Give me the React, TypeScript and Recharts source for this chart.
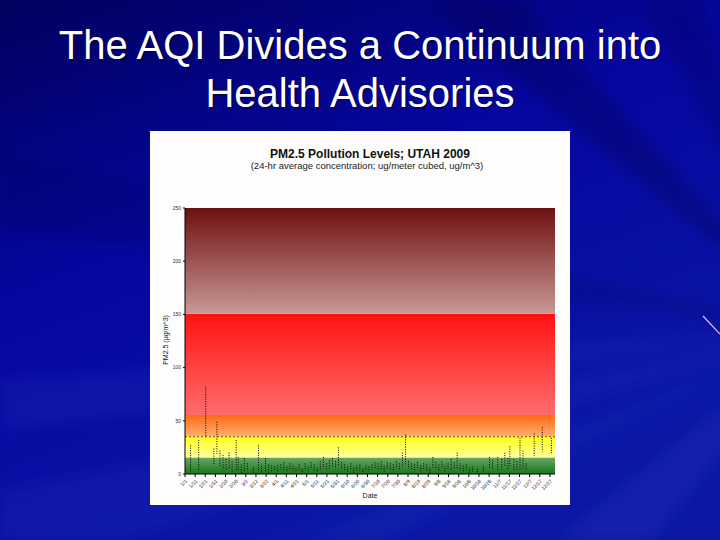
import { Bar, ComposedChart, ReferenceArea, ReferenceLine, XAxis, YAxis } from 'recharts';

// sampled days (day of year, 0 = Jan 1) and the low/high reading seen on each day
const days = [
  5, 13, 20, 28, 31, 34, 37, 40, 43, 46, 50, 52, 55, 58, 61, 67, 72, 75, 79, 82,
  85, 88, 91, 94, 97, 100, 103, 106, 109, 112, 115, 118, 121, 124, 127, 130, 133, 136, 139, 142,
  145, 148, 151, 154, 157, 160, 163, 166, 169, 172, 175, 178, 181, 184, 187, 190, 193, 196, 199, 202,
  205, 208, 211, 214, 217, 220, 223, 226, 229, 232, 235, 238, 241, 244, 247, 250, 253, 256, 259, 262,
  265, 268, 271, 274, 277, 280, 283, 288, 294, 300, 303, 308, 312, 315, 318, 320, 324, 327, 330, 333,
  336, 344, 352, 361,
];
const lows = [
  3, 4, 36, 10, 20, 8, 5, 4, 6, 3, 5, 4, 2, 3, 4, 2, 3, 2, 3, 2,
  3, 4, 3, 5, 4, 3, 5, 4, 3, 4, 2, 5, 3, 6, 4, 3, 5, 6, 4, 5,
  7, 6, 8, 5, 4, 3, 5, 2, 4, 3, 2, 4, 3, 5, 6, 4, 5, 3, 6, 5,
  4, 6, 5, 7, 10, 6, 5, 4, 6, 3, 5, 4, 2, 6, 5, 4, 6, 3, 5, 4,
  6, 5, 4, 3, 5, 2, 3, 2, 3, 6, 5, 5, 5, 8, 6, 8, 5, 4, 5, 6,
  4, 18, 22, 20,
];
const highs = [
  27, 32, 82, 24, 49, 22, 18, 14, 20, 12, 32, 16, 9, 15, 10, 6, 27, 8, 15, 9,
  8, 7, 8, 9, 11, 7, 10, 8, 6, 9, 5, 10, 7, 11, 9, 6, 12, 16, 10, 13,
  15, 12, 25, 11, 9, 7, 10, 6, 8, 9, 5, 8, 7, 9, 11, 10, 12, 8, 11, 10,
  9, 12, 10, 20, 37, 12, 10, 9, 11, 8, 10, 9, 6, 16, 11, 9, 12, 8, 10, 14,
  11, 20, 10, 8, 9, 6, 7, 5, 7, 16, 13, 16, 14, 20, 15, 26, 14, 12, 34, 22,
  10, 38, 44, 34,
];

const tickDays = [
  0, 10, 20, 30, 40, 50, 60, 70, 80, 90, 100, 110, 120, 130, 140, 150, 160, 170, 180,
  190, 200, 210, 220, 230, 240, 250, 260, 270, 280, 290, 300, 310, 320, 330, 340, 350, 360,
];
const tickLabels = [
  '1/1', '1/11', '1/21', '1/31', '2/10', '2/20', '3/2', '3/12', '3/22', '4/1', '4/11', '4/21',
  '5/1', '5/11', '5/21', '5/31', '6/10', '6/20', '6/30', '7/10', '7/20', '7/30', '8/9', '8/19',
  '8/29', '9/8', '9/18', '9/28', '10/8', '10/18', '10/28', '11/7', '11/17', '11/27', '12/7',
  '12/17', '12/27',
];
const yTicks = [0, 50, 100, 150, 200, 250];

// AQI breakpoints for PM2.5 (ug/m^3)
const breakFrom = [0, 15.5, 35.5, 55.5, 150.5];
const breakTo = [15.5, 35.5, 55.5, 150.5, 250];
const standard = 35;

const BAND_TOP = ['#6aa66a', '#ffff14', '#ff6a14', '#ff1212', '#6e1010'];
const BAND_BOTTOM = ['#187818', '#ffffa0', '#ffae6e', '#ff6c6c', '#c89896'];

const data = days.map((d, i) => ({ day: d, range: [lows[i], highs[i]] }));

function DotColumn(p: any) {
  const { x, y, width, height } = p;
  if (x == null || y == null) return null;
  const cx = x + width / 2;
  const y1 = Math.min(y, y + height);
  const y2 = Math.max(y, y + height);
  return (
    <line x1={cx} x2={cx} y1={y1} y2={y2 + 1} stroke="#000" strokeWidth={1} strokeDasharray="1 1.4" />
  );
}

function Background() {
  const o = '820,330';
  return (
    <svg width={720} height={540} style={{ position: 'absolute', left: 0, top: 0 }}>
      <defs>
        <linearGradient id="bg" x1="0" y1="0" x2="0.5" y2="1">
          <stop offset="0%" stopColor="#00005e" />
          <stop offset="45%" stopColor="#0606a0" />
          <stop offset="100%" stopColor="#0b18a6" />
        </linearGradient>
        <filter id="soft" x="-20%" y="-20%" width="140%" height="140%">
          <feGaussianBlur stdDeviation="7" />
        </filter>
      </defs>
      <rect width={720} height={540} fill="url(#bg)" />
      <g filter="url(#soft)">
        <polygon points={`${o} 420,0 520,0`} fill="#000048" opacity={0.3} />
        <polygon points={`${o} 640,0 700,0`} fill="#000050" opacity={0.25} />
        <polygon points={`${o} 0,150 0,230`} fill="#00004a" opacity={0.2} />
        <polygon points={`${o} 0,380 0,430`} fill="#4a5ae0" opacity={0.1} />
        <polygon points={`${o} 0,490 0,540 120,540`} fill="#4a5ae0" opacity={0.09} />
        <polygon points={`${o} 560,540 650,540`} fill="#6070f0" opacity={0.09} />
        <polygon points={`${o} 300,540 380,540`} fill="#5060e0" opacity={0.08} />
      </g>
      <line x1={703} y1={316} x2={720} y2={334} stroke="#e8b8ff" strokeWidth={1.2} />
    </svg>
  );
}

export default function App() {
  return (
    <div
      style={{
        position: 'absolute',
        left: 0,
        top: 0,
        width: 720,
        height: 540,
        overflow: 'hidden',
        fontFamily: '"Liberation Sans", Arial, sans-serif',
      }}
    >
      <Background />
      <div
        style={{
          position: 'absolute',
          left: 0,
          top: 21,
          width: 720,
          textAlign: 'center',
          color: '#fff',
          fontSize: 40,
          lineHeight: '48px',
          textShadow: '1px 1px 1px rgba(0,0,40,0.7)',
        }}
      >
        The AQI Divides a Continuum into
        <br />
        Health Advisories
      </div>

      <div style={{ position: 'absolute', left: 150, top: 131, width: 420, height: 374, background: '#fdfdfd' }}>
        <div
          style={{
            position: 'absolute',
            left: 0,
            top: 16,
            width: 440,
            textAlign: 'center',
            fontSize: 12,
            fontWeight: 'bold',
            color: '#111',
          }}
        >
          PM2.5 Pollution Levels; UTAH 2009
        </div>
        <div
          style={{
            position: 'absolute',
            left: 0,
            top: 29,
            width: 434,
            textAlign: 'center',
            fontSize: 9.5,
            color: '#222',
          }}
        >
          (24-hr average concentration; ug/meter cubed, ug/m^3)
        </div>
        <div
          style={{
            position: 'absolute',
            left: 16 - 40,
            top: 205,
            width: 80,
            textAlign: 'center',
            fontSize: 7,
            color: '#222',
            transform: 'rotate(-90deg)',
            transformOrigin: '40px 4px',
          }}
        >
          PM2.5 (µg/m^3)
        </div>
        <div
          style={{
            position: 'absolute',
            left: 200,
            top: 361,
            width: 40,
            textAlign: 'center',
            fontSize: 7,
            color: '#222',
          }}
        >
          Date
        </div>

        <div style={{ position: 'absolute', left: 0, top: 0 }}>
          <ComposedChart
            width={420}
            height={374}
            data={data}
            margin={{ top: 77, right: 15, bottom: 0, left: 20 }}
          >
            <defs>
              {BAND_TOP.map((c, i) => (
                <linearGradient key={i} id={`band${i}`} x1="0" y1="0" x2="0" y2="1">
                  <stop offset="0%" stopColor={c} />
                  <stop offset="100%" stopColor={BAND_BOTTOM[i]} />
                </linearGradient>
              ))}
            </defs>
            {breakFrom.map((f, i) => (
              <ReferenceArea
                key={i}
                y1={f}
                y2={breakTo[i]}
                fill={`url(#band${i})`}
                fillOpacity={1}
                stroke="none"
              />
            ))}
            <ReferenceLine y={standard} stroke="#7a3a10" strokeDasharray="2 2" strokeWidth={1} />
            <XAxis
              type="number"
              dataKey="day"
              domain={[0, 365]}
              ticks={tickDays}
              interval={0}
              tickFormatter={(v: number) => tickLabels[tickDays.indexOf(v)]}
              angle={-45}
              textAnchor="end"
              height={31}
              tickSize={3}
              tick={{ fontSize: 5, fill: '#222' }}
              axisLine={{ stroke: '#000' }}
              tickLine={{ stroke: '#000' }}
            />
            <YAxis
              type="number"
              domain={[0, 250]}
              ticks={yTicks}
              width={15}
              tickSize={2}
              tick={{ fontSize: 5, fill: '#333' }}
              axisLine={{ stroke: '#000' }}
              tickLine={{ stroke: '#000' }}
            />
            <Bar dataKey="range" barSize={1} shape={DotColumn} isAnimationActive={false} />
          </ComposedChart>
        </div>
      </div>
    </div>
  );
}
